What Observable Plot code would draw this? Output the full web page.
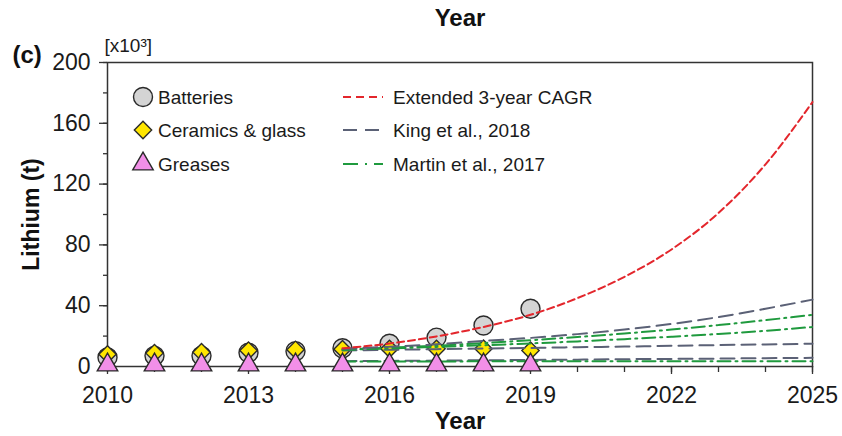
<!DOCTYPE html>
<html><head><meta charset="utf-8">
<script src="https://cdn.jsdelivr.net/npm/d3@7"></script>
<script src="https://cdn.jsdelivr.net/npm/@observablehq/plot@0.6"></script>
<style>body{margin:0;background:#fff;} svg{display:block}</style>
</head><body><div id="chart"></div>
<script>
// ---- data (thousand tonnes of lithium) ----
const years = [2010, 2011, 2012, 2013, 2014, 2015, 2016, 2017, 2018, 2019];
const batteries = [6, 7, 7, 9, 10, 12, 15, 19, 27, 38];
const ceramics = [8, 8.8, 9.4, 10.5, 11, 11.4, 11.6, 11.6, 11.7, 10.5];
const greases = [1, 1, 1, 1, 1, 1, 1, 1, 1, 1];

const projYears = [2015, 2016, 2017, 2018, 2019, 2020, 2021, 2022, 2023, 2024, 2025];
const cagr    = [12, 15.1, 19.8, 26, 34, 45, 59, 77, 101, 133, 174];
const king1   = [11.5, 13, 14.6, 16.8, 18.8, 21.3, 24.3, 28, 32.5, 38, 44];
const king2   = [10.5, 11, 11.4, 11.8, 12.2, 12.7, 13.1, 13.6, 14.1, 14.5, 15];
const king3   = [3.5, 3.7, 3.9, 4.1, 4.3, 4.5, 4.8, 5, 5.2, 5.5, 5.7];
const martin1 = [11, 12.4, 13.7, 15.4, 17.3, 19.4, 21.7, 24.3, 27.3, 30.5, 34];
const martin2 = [11, 11.9, 12.9, 14, 15.2, 16.5, 18, 19.6, 21.4, 23.5, 26];
const martin3 = [3.3, 3.3, 3.3, 3.4, 3.4, 3.4, 3.4, 3.5, 3.5, 3.5, 3.5];

const xMajorTicks = [2010, 2013, 2016, 2019, 2022, 2025];
const xMinorTicks = [2010,2011,2012,2013,2014,2015,2016,2017,2018,2019,2020,2021,2022,2023,2024,2025];
const yMajorTicks = [0, 40, 80, 120, 160, 200];
const yMinorTicks = [0, 20, 40, 60, 80, 100, 120, 140, 160, 180, 200];

const seriesNames = ["Batteries", "Ceramics & glass", "Greases"];
const modelNames = ["Extended 3-year CAGR", "King et al., 2018", "Martin et al., 2017"];

// ---- styles ----
const font = "'Liberation Sans', Arial, Helvetica, sans-serif";
const RED = "#e3262c", GREY = "#5b6176", GREEN = "#1f9a3e";
const symStyle = {
  "Batteries": {symbol: "circle", fill: "#d4d4d4", r: 9.5},
  "Ceramics & glass": {symbol: "diamond2", fill: "#ffe600", r: 7.8},
  "Greases": {symbol: "triangle", fill: "#f28fe8", r: 7.6}
};
const lineStyle = {
  "Extended 3-year CAGR": {stroke: RED, dash: "7,4"},
  "King et al., 2018": {stroke: GREY, dash: "14,7"},
  "Martin et al., 2017": {stroke: GREEN, dash: "13,5,2,5"}
};

const obs = (vals) => years.map((y, i) => ({year: y, value: vals[i]}));
const proj = (vals) => projYears.map((y, i) => ({year: y, value: vals[i]}));

const lineMark = (vals, model) => Plot.line(proj(vals), {
  x: "year", y: "value", curve: "monotone-x",
  stroke: lineStyle[model].stroke, strokeWidth: 2, strokeDasharray: lineStyle[model].dash
});
const dotMark = (vals, name) => Plot.dot(obs(vals), {
  x: "year", y: "value", symbol: symStyle[name].symbol, r: symStyle[name].r,
  fill: symStyle[name].fill, stroke: "#2a2a2a", strokeWidth: 1.4
});
const label = (t, o) => Plot.text([t], {lineAnchor: "middle", fill: "#111", ...o});

const chart = Plot.plot({
  width: 842, height: 436,
  marginLeft: 107, marginRight: 30, marginTop: 62, marginBottom: 70,
  style: {fontFamily: font, background: "#fff", color: "#1a1a1a", overflow: "visible"},
  x: {domain: [2010, 2025]},
  y: {domain: [0, 200]},
  marks: [
    Plot.axisX({ticks: xMinorTicks, tickSize: 6, tickFormat: () => "", label: null, stroke: "#333", strokeWidth: 1.3}),
    Plot.axisX({ticks: xMajorTicks, tickSize: 8, tickPadding: 12, tickFormat: d => String(d), fontSize: 23, label: null, stroke: "#333", strokeWidth: 1.3, fill: "#1a1a1a"}),
    Plot.axisY({ticks: yMinorTicks, tickSize: 4, tickFormat: () => "", label: null, stroke: "#333", strokeWidth: 1.3}),
    Plot.axisY({ticks: yMajorTicks, tickSize: 8, tickPadding: 9, tickFormat: d => String(d), fontSize: 23, label: null, stroke: "#333", strokeWidth: 1.3, fill: "#1a1a1a"}),
    Plot.frame({stroke: "#333", strokeWidth: 1.5}),
    dotMark(batteries, "Batteries"),
    dotMark(ceramics, "Ceramics & glass"),
    lineMark(king3, "King et al., 2018"),
    lineMark(martin3, "Martin et al., 2017"),
    lineMark(king2, "King et al., 2018"),
    lineMark(martin2, "Martin et al., 2017"),
    lineMark(martin1, "Martin et al., 2017"),
    lineMark(king1, "King et al., 2018"),
    lineMark(cagr, "Extended 3-year CAGR"),
    dotMark(greases, "Greases"),
    label("Year", {frameAnchor: "bottom", textAnchor: "middle", dy: 55, fontSize: 24, fontWeight: "bold"}),
    label("Year", {frameAnchor: "top", textAnchor: "middle", dy: -44, fontSize: 24, fontWeight: "bold"}),
    label("Lithium (t)", {frameAnchor: "left", textAnchor: "middle", dx: -76, rotate: -90, fontSize: 23, fontWeight: "bold"}),
    label("(c)", {frameAnchor: "top-left", textAnchor: "start", dx: -95, dy: -7, fontSize: 24, fontWeight: "bold"}),
    label("[x10³]", {frameAnchor: "top-left", textAnchor: "start", dx: -3, dy: -17, fontSize: 19, fill: "#1a1a1a"})
  ]
});

// ---- legend inside the plot ----
const svg = d3.select(chart);
const lg = svg.append("g").attr("font-family", font).attr("font-size", 19)
  .attr("fill", "#1a1a1a").attr("text-anchor", "start");
const rows = [97, 130, 164];
const legendDash = {"Extended 3-year CAGR": "8,5", "King et al., 2018": "14,8", "Martin et al., 2017": "15,7,2,7"};
const symbolTypes = {circle: d3.symbolCircle, diamond2: d3.symbolDiamond2, triangle: d3.symbolTriangle};
seriesNames.forEach((name, i) => {
  const s = symStyle[name];
  lg.append("path")
    .attr("d", d3.symbol(symbolTypes[s.symbol], Math.PI * s.r * s.r)())
    .attr("transform", `translate(143,${rows[i]})`)
    .attr("fill", s.fill).attr("stroke", "#2a2a2a").attr("stroke-width", 1.4);
  lg.append("text").attr("x", 158).attr("y", rows[i]).attr("dy", "0.35em").text(name);
});
modelNames.forEach((name, i) => {
  const s = lineStyle[name];
  lg.append("line").attr("x1", 343).attr("x2", 383).attr("y1", rows[i]).attr("y2", rows[i])
    .attr("stroke", s.stroke).attr("stroke-width", 2).attr("stroke-dasharray", legendDash[name]);
  lg.append("text").attr("x", 393).attr("y", rows[i]).attr("dy", "0.35em").text(name);
});

document.getElementById("chart").appendChild(chart);
</script>
</body></html>
